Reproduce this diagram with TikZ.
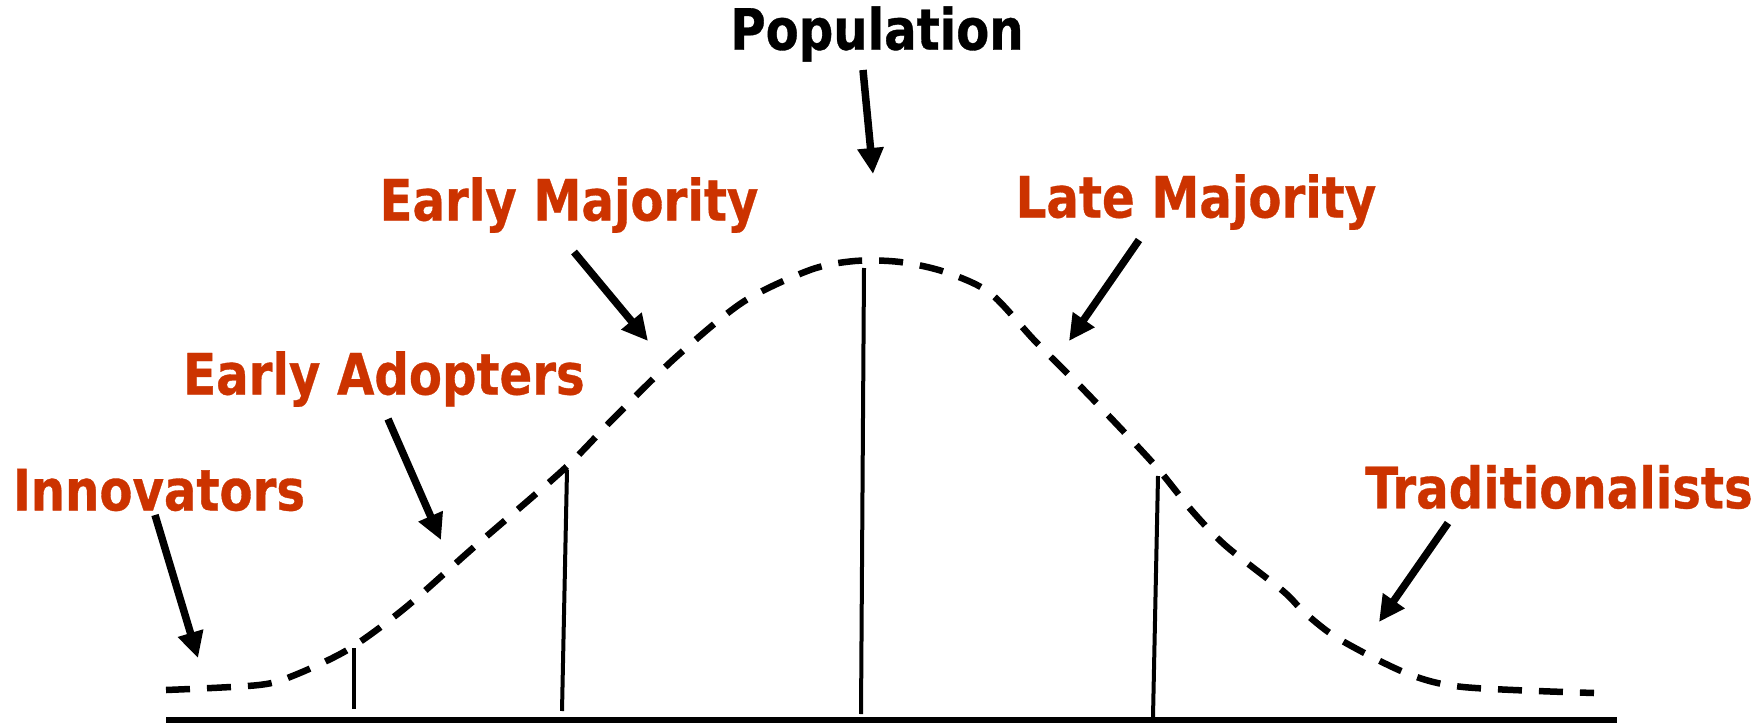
\documentclass[tikz,border=0pt]{standalone}
\usepackage{fontspec}
\newfontfamily\lblfont{DejaVu Sans Condensed Bold}[FakeStretch=0.94,FakeBold=0.6]
\usetikzlibrary{arrows.meta}
\definecolor{lblred}{HTML}{CC3300}
\tikzset{
  lbl/.style={font=\lblfont\fontsize{57}{60}\selectfont, text=lblred, inner sep=0pt},
  poplbl/.style={lbl, text=black},
  pointer/.style={line width=7.5pt, -{Triangle[length=26pt,width=25pt]}},
  bell/.style={line width=6.5pt, dash pattern=on 24pt off 17pt},
  divider/.style={line width=4pt},
  axis/.style={line width=6.5pt}
}
\begin{document}
\begin{tikzpicture}[x=1pt,y=-1pt]
\useasboundingbox (0,0) rectangle (1764,725);
% labels
\node[poplbl] (pop) at (877,34) {Population};
\node[lbl] (em) at (569,205) {Early Majority};
\node[lbl] (lm) at (1196,202) {Late Majority};
\node[lbl] (ea) at (384,379) {Early Adopters};
\node[lbl] (inn) at (159,490) {Innovators};
\node[lbl] (trad) at (1559,487) {Traditionalists};
% arrow ends
\coordinate (popA) at (863,70);  \coordinate (popB) at (873,174);
\coordinate (emA) at (574,252);  \coordinate (emB) at (648,341);
\coordinate (lmA) at (1139,240); \coordinate (lmB) at (1069,341);
\coordinate (eaA) at (388,419);  \coordinate (eaB) at (441,540);
\coordinate (innA) at (155,515); \coordinate (innB) at (198,658);
\coordinate (trA) at (1448,523); \coordinate (trB) at (1379,622);
\draw[pointer] (popA) -- (popB);
\draw[pointer] (emA) -- (emB);
\draw[pointer] (lmA) -- (lmB);
\draw[pointer] (eaA) -- (eaB);
\draw[pointer] (innA) -- (innB);
\draw[pointer] (trA) -- (trB);
% bell curve
\draw[bell] plot[smooth, tension=0.5] coordinates {
 (166,690) (259,685) (295,675) (349,649) (405,608) (473,548) (563,470)
 (613,419) (675,358) (743,302) (810,270) (855,261) (900,262) (945,272)
 (990,293) (1035,341) (1080,386) (1125,433) (1159,470) (1193,512)
 (1226,546) (1283,591) (1305,613) (1339,639) (1406,673) (1463,687) (1594,693)};
% dividers
\coordinate (d1t) at (354,648); \coordinate (d1b) at (354,709);
\coordinate (d2t) at (567,470); \coordinate (d2b) at (562,711);
\coordinate (d3t) at (864,268); \coordinate (d3b) at (861,714);
\coordinate (d4t) at (1158,476); \coordinate (d4b) at (1153,717);
\draw[divider] (d1t) -- (d1b);
\draw[divider] (d2t) -- (d2b);
\draw[divider] (d3t) -- (d3b);
\draw[divider] (d4t) -- (d4b);
% axis
\coordinate (axL) at (166,720); \coordinate (axR) at (1617,720);
\draw[axis] (axL) -- (axR);
\end{tikzpicture}
\end{document}
